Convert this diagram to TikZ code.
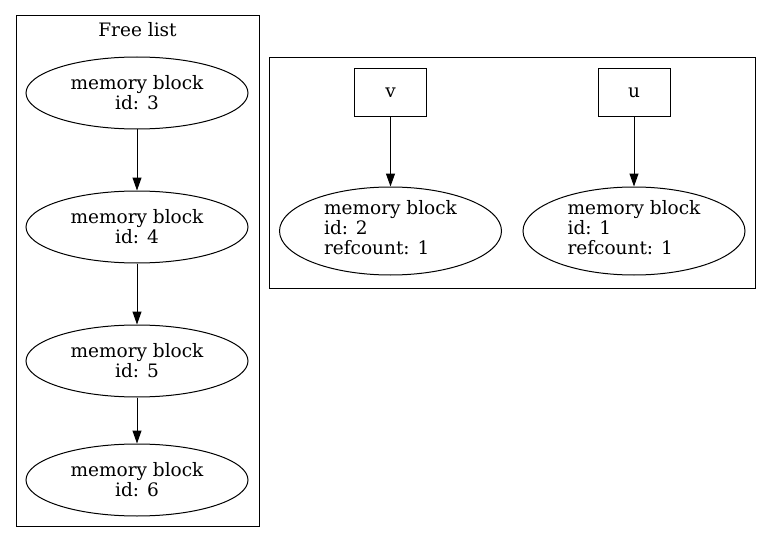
\documentclass[tikz,border=0pt]{standalone}
\usepackage{fontspec}
\setmainfont{DejaVu Serif}
\usetikzlibrary{shapes.geometric,arrows.meta}
\begin{document}
\begin{tikzpicture}[x=1pt,y=-1pt,line width=1pt,
  txt/.style={font=\fontsize{18.5}{20}\selectfont},
  blk/.style={draw,ellipse,minimum width=222pt,minimum height=72pt,inner sep=0pt,txt,align=center},
  blk2/.style={draw,ellipse,minimum width=222pt,minimum height=88pt,inner sep=0pt,txt,align=left,text depth=7pt},
  var/.style={draw,rectangle,minimum width=72pt,minimum height=48pt,inner sep=0pt,txt},
  arr/.style={-{Triangle[length=13pt,width=9pt]}},
  clus/.style={draw}]
\useasboundingbox (0,0) rectangle (772,543);
\node[clus,minimum width=243pt,minimum height=510pt,inner sep=0pt] (free) at (137.5,271) {};
\node[txt] (title) at (137.5,30) {Free list};
\node[blk] (m3) at (137,93) {memory block\\id: 3};
\node[blk] (m4) at (137,227) {memory block\\id: 4};
\node[blk] (m5) at (137,361) {memory block\\id: 5};
\node[blk] (m6) at (137,480) {memory block\\id: 6};
\draw[arr] (m3) -- (m4);
\draw[arr] (m4) -- (m5);
\draw[arr] (m5) -- (m6);
\node[clus,minimum width=486pt,minimum height=230pt,inner sep=0pt] (right) at (512,173) {};
\node[var] (v) at (390.5,93) {v};
\node[var] (u) at (634,93) {u};
\node[blk2] (m2) at (390.5,231) {memory block\\id: 2\\refcount: 1};
\node[blk2] (m1) at (634,231) {memory block\\id: 1\\refcount: 1};
\draw[arr] (v) -- (m2);
\draw[arr] (u) -- (m1);
\end{tikzpicture}
\end{document}
